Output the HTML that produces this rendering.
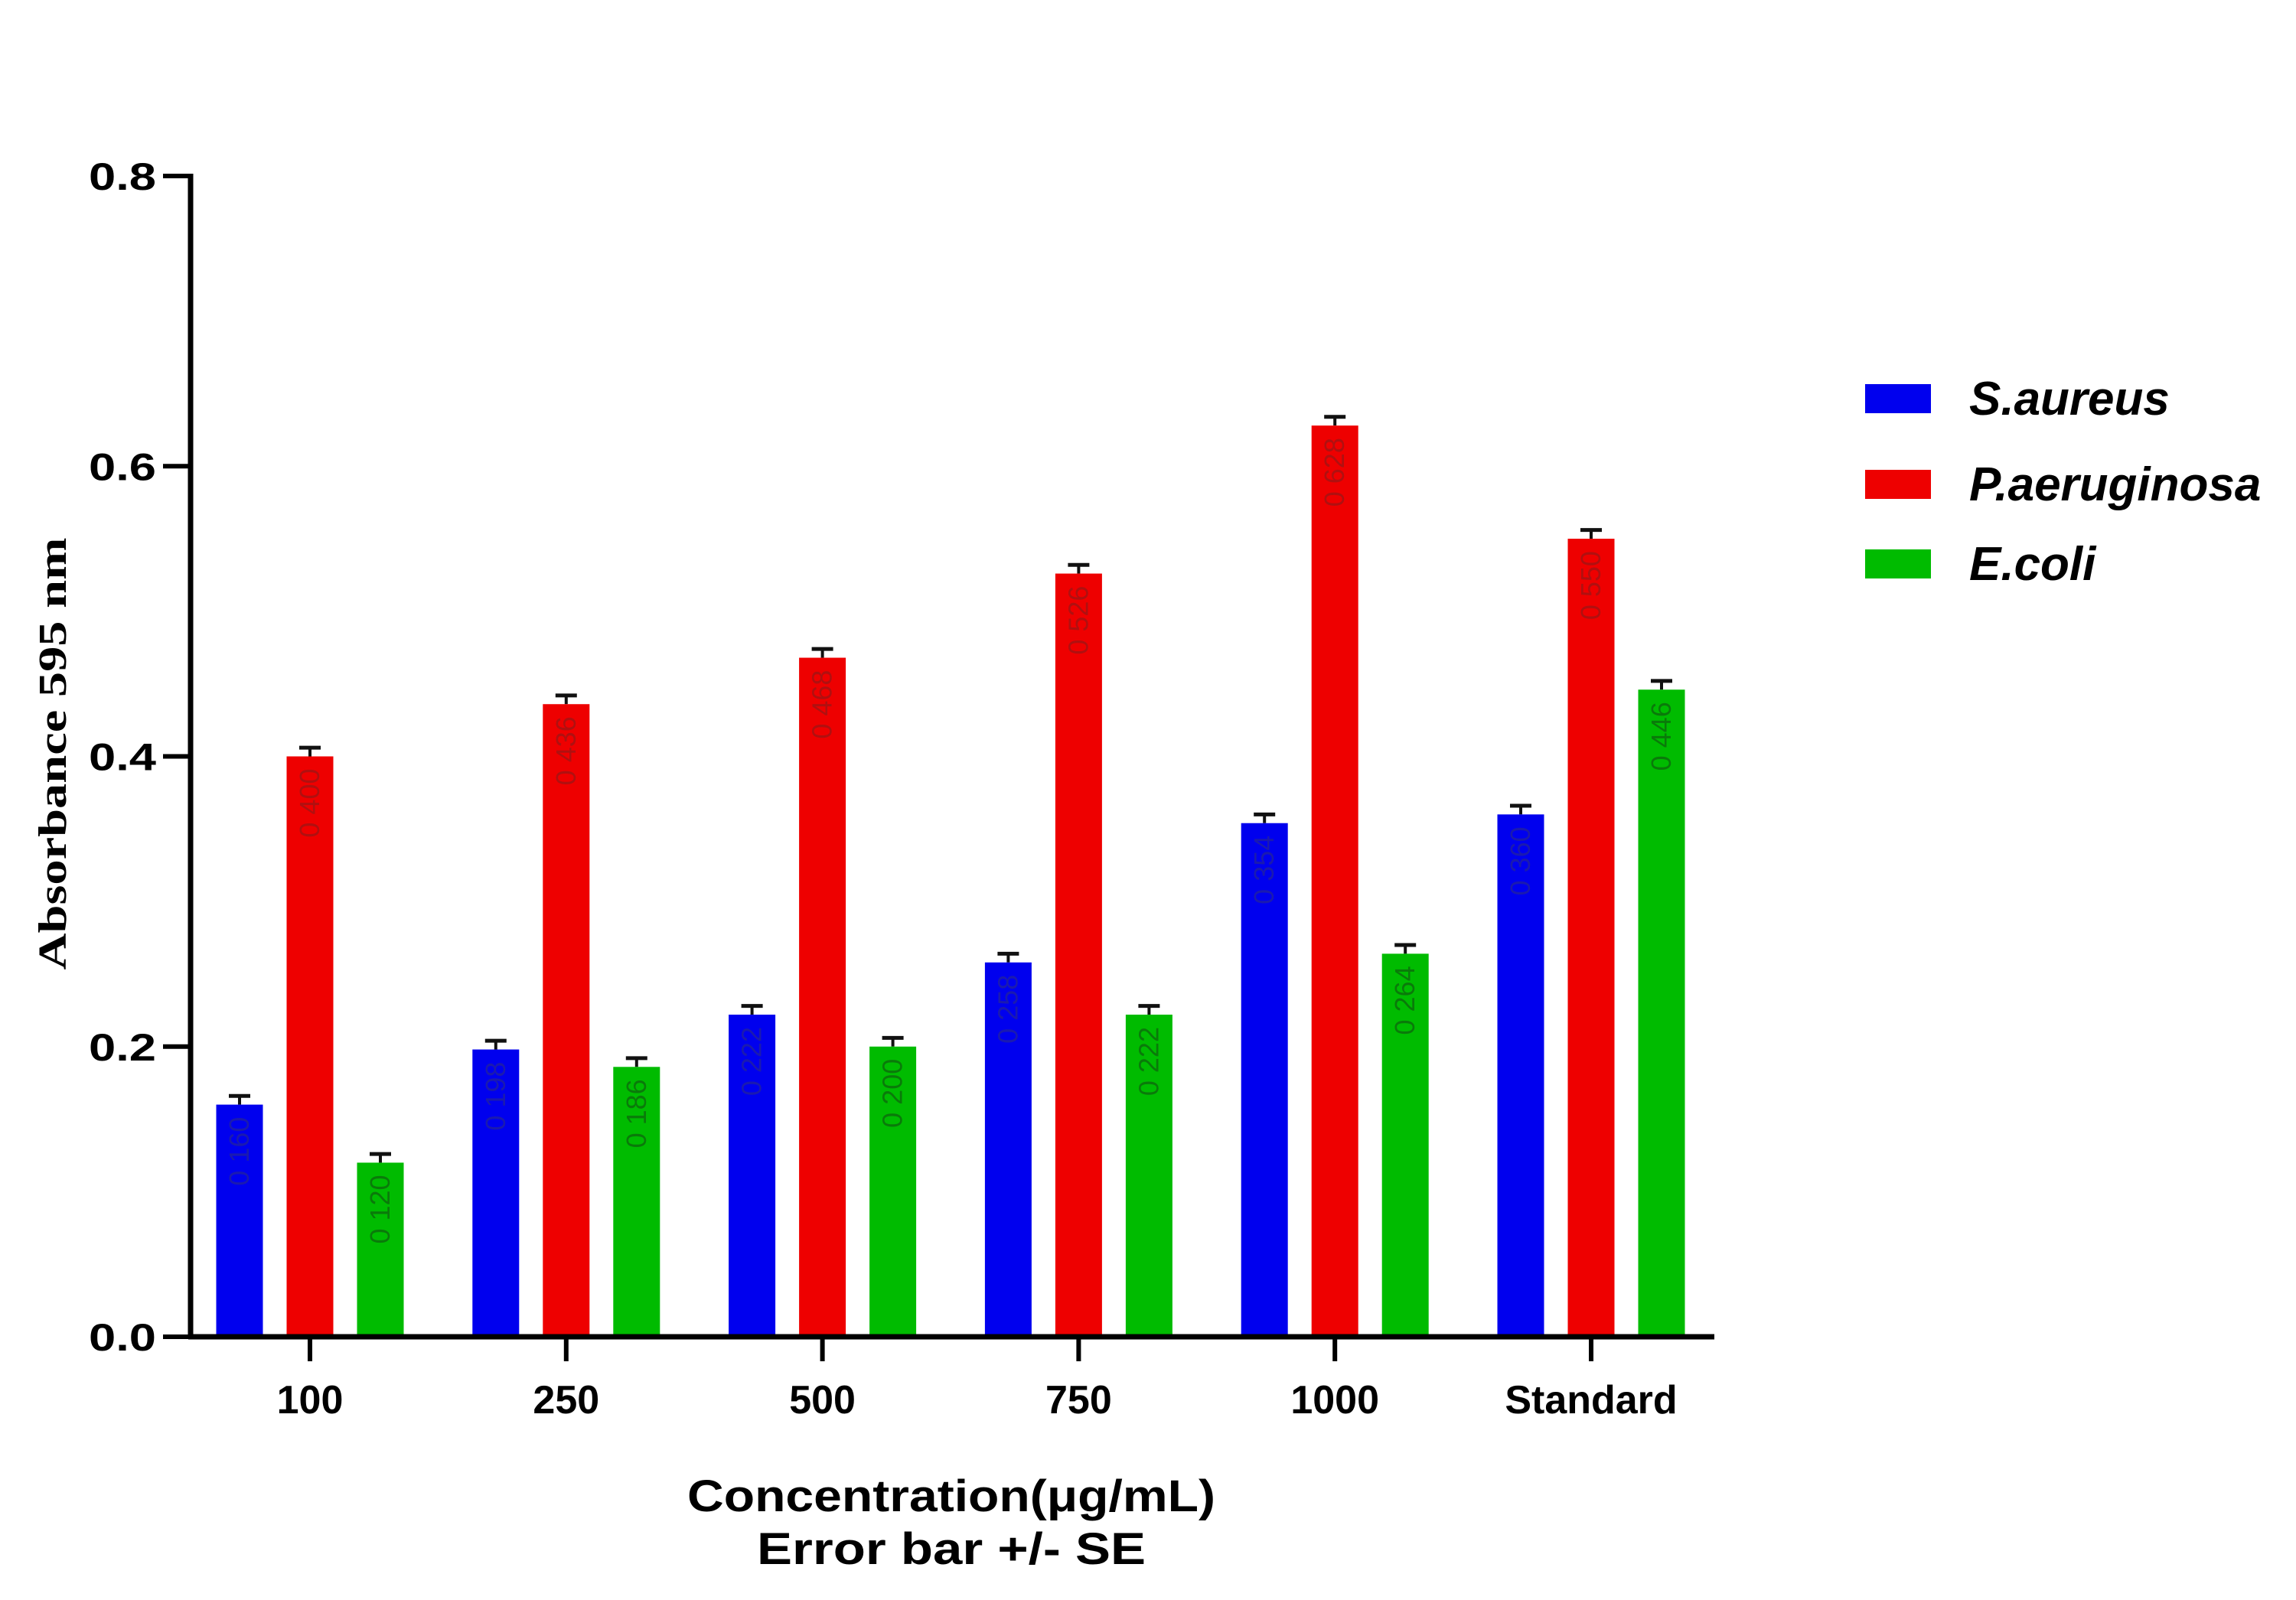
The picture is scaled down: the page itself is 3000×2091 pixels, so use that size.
<!DOCTYPE html>
<html><head><meta charset="utf-8"><style>
html,body{margin:0;padding:0;background:#fff;}
svg{display:block;}
</style></head><body>
<svg id="chart" width="3000" height="2091" viewBox="0 0 3000 2091" xmlns="http://www.w3.org/2000/svg">
<g id="plot"></g>
<text transform="translate(86,985) rotate(-90)" text-anchor="middle" font-family="Liberation Serif, serif" font-weight="bold" font-size="52" textLength="565" lengthAdjust="spacingAndGlyphs">Absorbance 595 nm</text>
<text x="1243" y="1975" text-anchor="middle" font-family="Liberation Sans, sans-serif" font-weight="bold" font-size="58" textLength="690" lengthAdjust="spacingAndGlyphs">Concentration(μg/mL)</text>
<text x="1243" y="2044" text-anchor="middle" font-family="Liberation Sans, sans-serif" font-weight="bold" font-size="58" textLength="508" lengthAdjust="spacingAndGlyphs">Error bar +/- SE</text>
<g>
<rect x="2437" y="502" width="86" height="38" fill="#0000ee"/>
<text x="2573" y="542" font-family="Liberation Sans, sans-serif" font-weight="bold" font-style="italic" font-size="62">S.aureus</text>
<rect x="2437" y="614" width="86" height="38" fill="#ee0000"/>
<text x="2573" y="654" font-family="Liberation Sans, sans-serif" font-weight="bold" font-style="italic" font-size="62">P.aeruginosa</text>
<rect x="2437" y="718" width="86" height="38" fill="#00bb00"/>
<text x="2573" y="758" font-family="Liberation Sans, sans-serif" font-weight="bold" font-style="italic" font-size="62">E.coli</text>
</g>
</svg>
<script>
const categories = ["100","250","500","750","1000","Standard"];
const sAureus = [0.160,0.198,0.222,0.258,0.354,0.360];
const pAeruginosa = [0.400,0.436,0.468,0.526,0.628,0.550];
const eColi = [0.120,0.186,0.200,0.222,0.264,0.446];
const errors = [0.006,0.006,0.006,0.006,0.006,0.006];
const yTicks = [0.0,0.2,0.4,0.6,0.8];
const seriesNames = ["s-aureus","p-aeruginosa","e-coli"];

const NS = "http://www.w3.org/2000/svg";
const g = document.getElementById('plot');
const X0 = 249, X1 = 2240, Y0 = 1747, Y1 = 230;
function y(v){ return Y0 - (v/0.8)*(Y0-Y1); }
function xc(i){ return 405 + i*334.8; }
function mk(tag, attrs){ const e=document.createElementNS(NS,tag); for(const k in attrs) e.setAttribute(k,attrs[k]); g.appendChild(e); return e; }

const series=[sAureus,pAeruginosa,eColi];
const colors=["#0000ee","#ee0000","#00bb00"];
const labelColors=["#1a1ab0","#b01010","#0a7a0a"];
const offsets=[-92,0,92];
const bw=61;
series.forEach((arr,s)=>{
  arr.forEach((v,i)=>{
    const cx=xc(i)+offsets[s];
    const top=y(v);
    const et=y(v+errors[i]);
    const eb=mk('line',{x1:cx,x2:cx,y1:et,y2:top,stroke:'#111','stroke-width':4});
    
    
    const cap=mk('line',{x1:cx-14,x2:cx+14,y1:et,y2:et,stroke:'#111','stroke-width':5});
    
    
    const r=mk('rect',{x:cx-bw/2,y:top,width:bw,height:Y0-top,fill:colors[s]});
    
    
    const t=mk('text',{transform:`translate(${cx+12},${top+16}) rotate(-90)`,'font-family':'Liberation Sans, sans-serif','font-size':36,fill:labelColors[s],'text-anchor':'end'});
    t.textContent=v.toFixed(3).replace('.',' ');
    
    
  });
});

const ya=mk('line',{x1:X0,x2:X0,y1:Y1-3,y2:Y0+3,stroke:'#000','stroke-width':7});


const xa=mk('line',{x1:X0-3,x2:X1,y1:Y0,y2:Y0,stroke:'#000','stroke-width':7});


yTicks.forEach(v=>{
  const tk=mk('line',{x1:X0-36,x2:X0,y1:y(v),y2:y(v),stroke:'#000','stroke-width':6});
  
  
  const t=mk('text',{x:X0-45,y:y(v)+18,'text-anchor':'end','font-family':'Liberation Sans, sans-serif','font-weight':'bold','font-size':50,textLength:88,lengthAdjust:'spacingAndGlyphs'});
  t.textContent=v.toFixed(1);
  
  
});
categories.forEach((c,i)=>{
  const tk=mk('line',{x1:xc(i),x2:xc(i),y1:Y0,y2:Y0+32,stroke:'#000','stroke-width':6});
  
  
  const t=mk('text',{x:xc(i),y:Y0+100,'text-anchor':'middle','font-family':'Liberation Sans, sans-serif','font-weight':'bold','font-size':52});
  t.textContent=c;
  
  
});
</script>
</body></html>
